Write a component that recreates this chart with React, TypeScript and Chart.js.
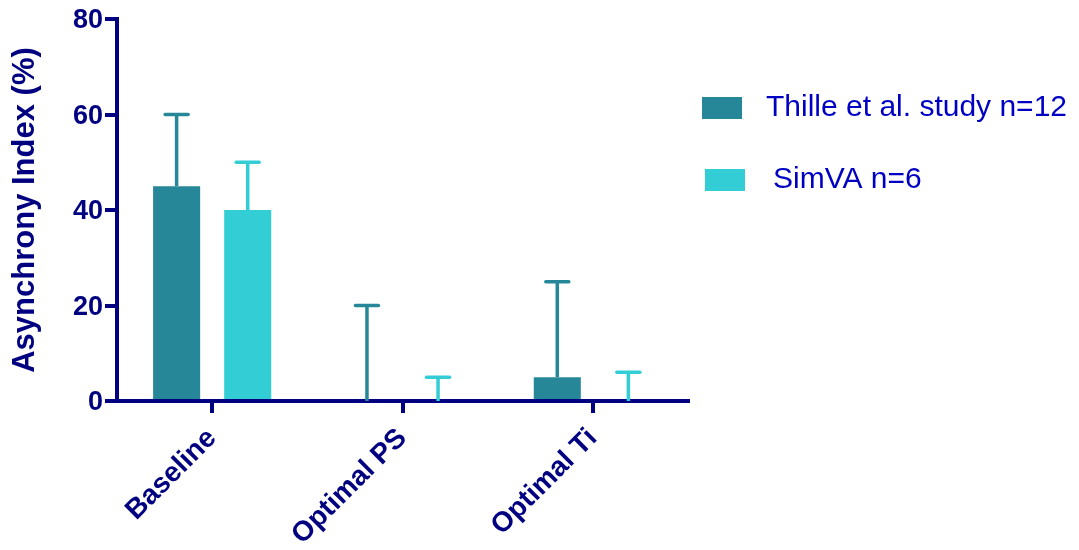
import React, { useEffect, useRef } from "react";
import { Chart, registerables } from "chart.js";

Chart.register(...registerables);

const categories = ["Baseline", "Optimal PS", "Optimal Ti"];
const seriesNames = ["Thille et al. study n=12", "SimVA n=6"];
const thilleMean = [45, 0, 5];
const thilleSD = [15, 20, 20];
const simvaMean = [40, 0, 0];
const simvaSD = [10, 5, 6];
const yTickValues = [0, 20, 40, 60, 80];

const NAVY = "#000080";
const DARK = "#268798";
const CYAN = "#33CDD5";
const FONT = "'Liberation Sans', Arial, Helvetica, sans-serif";

const errorBarPlugin = {
  id: "errorBars",
  afterDatasetsDraw(chart: any) {
    const ctx = chart.ctx;
    const yScale = chart.scales.y;
    chart.data.datasets.forEach((ds: any, di: number) => {
      const meta = chart.getDatasetMeta(di);
      const errs: number[] = ds.errors || [];
      meta.data.forEach((bar: any, i: number) => {
        const v = ds.data[i];
        const e = errs[i];
        if (e == null) return;
        const x = bar.x;
        const yBase = yScale.getPixelForValue(v);
        const yTop = yScale.getPixelForValue(v + e);
        ctx.save();
        ctx.strokeStyle = ds.backgroundColor;
        ctx.lineWidth = 3.5;
        ctx.lineCap = "butt";
        ctx.beginPath();
        ctx.moveTo(x, yBase);
        ctx.lineTo(x, yTop);
        ctx.stroke();
        ctx.lineCap = "round";
        ctx.beginPath();
        ctx.moveTo(x - 11.5, yTop);
        ctx.lineTo(x + 11.5, yTop);
        ctx.stroke();
        ctx.restore();
      });
    });
  },
};

const legendPlugin = {
  id: "sideLegend",
  afterDraw(chart: any, _args: any, opts: any) {
    const ctx = chart.ctx;
    const items = opts.items || [];
    chart.data.datasets.forEach((ds: any, i: number) => {
      const it = items[i];
      if (!it) return;
      ctx.save();
      ctx.fillStyle = ds.backgroundColor;
      ctx.fillRect(it.boxX, it.cy - 11, 40, 22);
      ctx.fillStyle = opts.color;
      ctx.font = opts.font;
      ctx.textBaseline = "middle";
      ctx.textAlign = "left";
      ctx.fillText(ds.label, it.textX, it.cy);
      ctx.restore();
    });
  },
};

export default function App() {
  const ref = useRef<HTMLCanvasElement | null>(null);

  useEffect(() => {
    if (!ref.current) return;
    const chart = new Chart(ref.current, {
      type: "bar",
      data: {
        labels: categories,
        datasets: [
          {
            label: seriesNames[0],
            data: thilleMean,
            errors: thilleSD,
            backgroundColor: DARK,
            borderWidth: 0,
            barPercentage: 0.662,
            categoryPercentage: 0.747,
          } as any,
          {
            label: seriesNames[1],
            data: simvaMean,
            errors: simvaSD,
            backgroundColor: CYAN,
            borderWidth: 0,
            barPercentage: 0.662,
            categoryPercentage: 0.747,
          } as any,
        ],
      },
      options: {
        animation: false,
        responsive: true,
        maintainAspectRatio: false,
        layout: { padding: { top: 19, right: 391, left: 0, bottom: 0 } },
        plugins: {
          legend: { display: false },
          tooltip: { enabled: false },
          sideLegend: {
            color: "#0000C4",
            font: `30px ${FONT}`,
            items: [
              { boxX: 702, textX: 766, cy: 108 },
              { boxX: 705, textX: 773, cy: 180 },
            ],
          },
        } as any,
        scales: {
          x: {
            type: "category",
            offset: true,
            grid: {
              display: true,
              offset: false,
              drawOnChartArea: false,
              drawTicks: true,
              tickLength: 12,
              lineWidth: 4,
              color: NAVY,
            },
            border: { display: true, width: 4, color: NAVY },
            ticks: {
              color: NAVY,
              font: { family: FONT, weight: "bold", size: 28 },
              minRotation: 45,
              maxRotation: 45,
              padding: 9,
            },
            afterFit: (s: any) => {
              s.height = 149;
            },
          },
          y: {
            min: 0,
            max: 80,
            afterBuildTicks: (s: any) => {
              s.ticks = yTickValues.map((v) => ({ value: v }));
            },
            grid: {
              display: true,
              drawOnChartArea: false,
              drawTicks: true,
              tickLength: 12,
              lineWidth: 4,
              color: NAVY,
            },
            border: { display: true, width: 4, color: NAVY },
            ticks: {
              color: NAVY,
              font: { family: FONT, weight: "bold", size: 27 },
              padding: 2,
              labelOffset: 2,
            },
            title: {
              display: true,
              text: "Asynchrony Index (%)",
              color: NAVY,
              font: { family: FONT, weight: "bold", size: 31 },
              padding: { top: 7, bottom: 0 },
            },
            afterFit: (s: any) => {
              s.width = 117;
            },
          },
        },
      },
      plugins: [errorBarPlugin, legendPlugin],
    });
    return () => chart.destroy();
  }, []);

  return (
    <div style={{ position: "absolute", left: 0, top: 0, width: 1079, height: 550, background: "#fff" }}>
      <canvas ref={ref} />
    </div>
  );
}
